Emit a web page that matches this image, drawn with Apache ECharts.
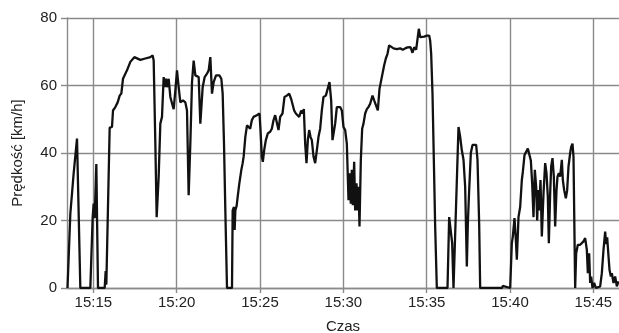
<!DOCTYPE html>
<html>
<head>
<meta charset="utf-8">
<script src="https://cdn.jsdelivr.net/npm/echarts@6/dist/echarts.min.js"></script>
<style>
html,body{margin:0;padding:0;background:#fff;}
#chart{width:619px;height:333px;}
</style>
</head>
<body>
<div id="chart"></div>
<script>
// time in minutes after 15:00
const times = [
13.45,13.62,13.82,14.02,14.22,14.82,14.96,15.02,15.08,15.18,15.28,15.68,15.74,15.78,15.98,
16.12,16.18,16.32,16.46,16.58,16.68,16.78,16.92,17.02,17.12,17.22,17.32,17.46,17.58,17.82,
18.12,18.42,18.56,18.62,18.72,18.80,18.92,19.02,19.12,19.22,19.28,19.36,19.42,19.52,19.62,
19.76,19.82,19.92,20.02,20.12,20.22,20.38,20.52,20.62,20.72,20.82,20.92,21.02,21.12,21.22,
21.32,21.42,21.56,21.68,21.82,21.92,22.02,22.12,22.22,22.36,22.56,22.68,22.76,22.84,22.92,
23.02,23.32,23.36,23.44,23.48,23.52,23.60,23.66,23.76,23.88,23.96,24.02,24.12,24.22,24.32,
24.41,24.51,24.61,24.71,24.81,24.97,25.03,25.11,25.17,25.25,25.35,25.47,25.61,25.71,25.81,
25.91,26.01,26.11,26.21,26.35,26.47,26.61,26.75,26.87,26.95,27.05,27.15,27.25,27.35,27.47,
27.55,27.63,27.71,27.79,27.87,27.95,28.03,28.11,28.21,28.31,28.41,28.51,28.61,28.71,28.81,
28.95,29.07,29.17,29.27,29.35,29.51,29.61,29.71,29.81,29.91,30.01,30.11,30.21,30.31,30.37,
30.45,30.51,30.57,30.65,30.71,30.79,30.85,30.91,30.97,31.05,31.13,31.21,31.31,31.41,31.51,
31.61,31.75,31.85,31.97,32.07,32.17,32.25,32.37,32.45,32.55,32.65,32.75,32.85,33.01,33.21,
33.41,33.57,33.71,33.85,33.95,34.03,34.15,34.25,34.37,34.45,34.53,34.61,34.71,34.85,35.01,
35.15,35.21,35.27,35.35,35.43,35.51,35.61,36.25,36.35,36.45,36.53,36.61,36.91,37.01,37.11,
37.21,37.31,37.41,37.47,37.55,37.65,37.75,37.85,37.97,38.05,38.15,38.21,39.51,39.57,40.01,
40.11,40.17,40.27,40.35,40.41,40.51,40.61,40.71,40.77,40.87,40.95,41.07,41.17,41.25,41.33,
41.41,41.49,41.57,41.63,41.69,41.75,41.83,41.91,42.01,42.11,42.19,42.27,42.33,42.41,42.47,
42.55,42.63,42.71,42.79,42.85,42.93,43.01,43.11,43.17,43.25,43.35,43.43,43.51,43.61,43.67,
43.75,43.81,43.91,43.97,44.07,44.21,44.31,44.41,44.51,44.61,44.67,44.75,44.81,44.87,44.95,
45.05,45.15,45.41,45.51,45.61,45.71,45.77,45.83,45.91,45.97,46.05,46.11,46.21,46.31,46.41,
46.51
];
// speed in km/h
const speeds = [
0,22,34,44.3,0,0,21,25,20.7,36.7,0,0,5,1,47.5,
47.7,52.6,53.6,55,57,57.6,62,63.5,64.5,65,67,67.4,68.4,68,67.6,
68,68.4,68.9,67.4,43,21,33,48.7,50.7,62.5,59.5,62,59.5,62,56.6,
54,53,58.5,64.5,59.5,55,55.6,55,52.6,27.5,42.8,61,67.4,63,63,
62.5,48.7,59.5,62.5,63.5,64.5,68.4,57.6,61,63,63,62,57.6,42.8,23,
0,0,23,24,17.2,23,24.4,27,31,35,37,39,44.8,48.2,47.7,
47.2,49.7,50.7,50.5,51.2,51.7,46.8,39,37.4,40.8,43.8,45.8,46.3,47.2,49.7,
51.2,50.7,46.8,50.7,51.7,56.6,57,57.6,56,55.6,52.6,51.7,52,50.7,52.6,
51.7,53,42.8,37,43.8,46.8,44.8,43.8,39,37,40.8,44.8,47.2,52.6,56.6,
57,56.6,61,55.6,43.8,48.7,53.6,54,53.6,52.6,47.7,46.8,42.8,26,34,
25,35,24.5,37.4,23,31,23,30,18.2,38,47.2,48.7,51.7,53,53.6,
54.6,57,55.6,55.3,52.6,59,61,61.5,66,68,69.4,71.9,71.4,71,70.8,
71,70.6,71,71.3,71,71.4,69.7,71.3,70.6,71,76.8,74.3,74.8,74.5,74.8,
74.8,73.3,69.4,57.6,38,18.2,0,0,21,20.5,13.3,0,47.7,44.8,40.8,
38,30,6.4,19,29,40,42.4,42.8,42.4,38,19,0,0,0.6,0,
13.3,15.3,20.7,14.3,8.4,21,24,32,34.4,39.4,39.9,41.3,41.8,37.8,31,
21,35,30,20,29,23,32,15.3,28,37,34,27,13.3,28,36,
38.5,33,18.2,29,33,34,33,38,32,29,26.6,29,36,40,41.8,
42.8,38.9,0,10.3,12.8,12.8,13.3,13.8,14.8,11.3,4.4,10.3,1.5,3.4,0,
1.5,0,0.5,4.4,11.3,16.7,13,15,9.4,5.4,3.4,4.4,1.5,3.4,0.5,
2
];
const xTickMinutes = [15,20,25,30,35,40,45];
const xTickLabels = ['15:15','15:20','15:25','15:30','15:35','15:40','15:45'];
const yTicks = [0,20,40,60,80];

const data = times.map((t,i)=>[t, speeds[i]]);
const FONT = '"Liberation Sans", Arial, sans-serif';
const GRID_COLOR = '#8a8a8a';

const chart = echarts.init(document.getElementById('chart'), null, {renderer:'canvas'});
chart.setOption({
  animation:false,
  backgroundColor:'#fff',
  grid:{left:67,right:0,top:18,bottom:45,containLabel:false,outerBoundsMode:'none'},
  xAxis:{
    type:'value',
    min:13.42, max:46.54,
    minInterval:5, maxInterval:5, splitNumber:7,
    name:'Czas', nameLocation:'middle', nameGap:31,
    nameTextStyle:{fontFamily:FONT,fontSize:15,color:'#222'},
    axisLine:{show:true,lineStyle:{color:GRID_COLOR,width:1.4}},
    axisTick:{show:true,inside:false,length:5,lineStyle:{color:GRID_COLOR,width:1.4}},
    axisLabel:{
      margin:7,fontFamily:FONT,fontSize:15,color:'#222',
      showMinLabel:false, showMaxLabel:false,
      formatter:function(v){
        for(let i=0;i<xTickMinutes.length;i++){ if(Math.abs(v-xTickMinutes[i])<1e-6) return xTickLabels[i]; }
        return '';
      }
    },
    splitLine:{show:true,showMinLine:false,showMaxLine:false,lineStyle:{color:GRID_COLOR,width:1.4}}
  },
  yAxis:{
    type:'value',
    min:yTicks[0], max:yTicks[yTicks.length-1], interval:20,
    name:'Prędkość [km/h]', nameLocation:'middle', nameGap:42,
    nameTextStyle:{fontFamily:FONT,fontSize:15,color:'#222'},
    axisLine:{show:true,lineStyle:{color:GRID_COLOR,width:1.4}},
    axisTick:{show:true,inside:false,length:6,lineStyle:{color:GRID_COLOR,width:1.4}},
    axisLabel:{margin:10,fontFamily:FONT,fontSize:15,color:'#222'},
    splitLine:{show:true,lineStyle:{color:GRID_COLOR,width:1.4}}
  },
  series:[{
    type:'line',
    data:data,
    showSymbol:false,
    smooth:false,
    clip:true,
    lineStyle:{color:'#111',width:2.3},
    itemStyle:{color:'#111'}
  }]
});
</script>
</body>
</html>
